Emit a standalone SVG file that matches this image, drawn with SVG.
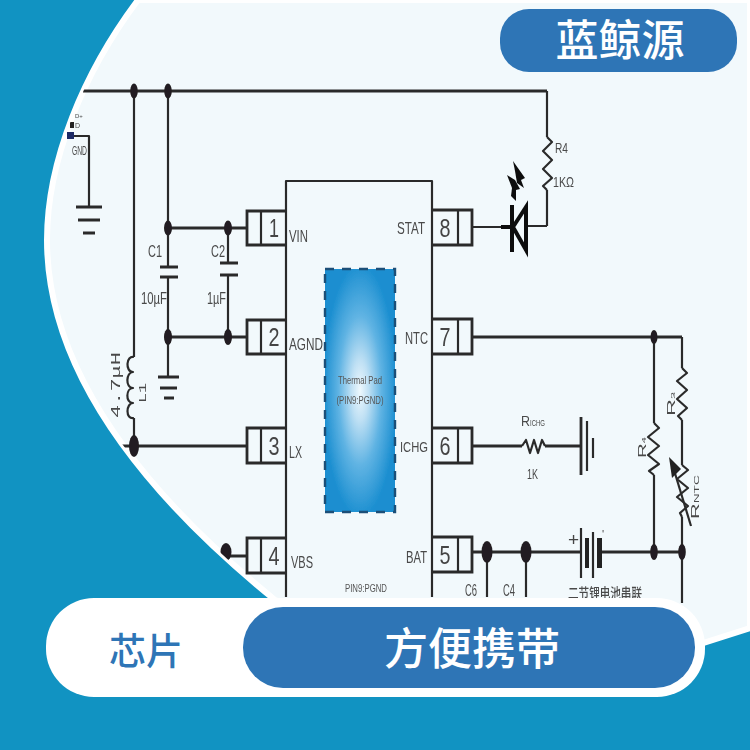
<svg xmlns="http://www.w3.org/2000/svg" width="750" height="750" viewBox="0 0 750 750">
<style>
.w{fill:none;stroke:#2c2c2c;stroke-width:2.2;stroke-linejoin:round}
.t{fill:none;stroke:#2c2c2c;stroke-width:2.8}
.b{fill:none;stroke:#111;stroke-width:4}
.n{fill:#231f20}
text{font-family:"Liberation Sans",Arial,sans-serif;fill:#4a4a4a;font-size:17px}
.d{font-size:26px;text-anchor:middle;fill:#444}
.s{font-size:11.5px;fill:#555}
</style>
<defs>
<radialGradient id="pad" cx="0.5" cy="0.5" r="0.62">
<stop offset="0" stop-color="#eef8fd"/><stop offset="0.2" stop-color="#bfe0f4"/><stop offset="0.5" stop-color="#5fb3e3"/><stop offset="0.85" stop-color="#1a8ed0"/>
</radialGradient>
<clipPath id="area"><path d="M138 0C84 72 47 160 47 240C47 350 115 470 275 600L500 680L703 643L750 628V0Z"/></clipPath>
<filter id="soft" x="-2%" y="-2%" width="104%" height="104%"><feGaussianBlur stdDeviation="0.35"/></filter>
</defs>
<rect id="background" width="750" height="750" fill="#1193c2"/>
<path id="panel" d="M138 0C84 72 47 160 47 240C47 350 115 470 275 600L500 680L703 643L750 628V0Z" fill="#f2f9fc" stroke="#fff" stroke-width="6"/>
<g clip-path="url(#area)"><g filter="url(#soft)">
<g id="connectors">
<path class="t" d="M83 91H547"/>
<path class="w" d="M547 91V137M547 190V226M527 226H547M472 227H501"/>
<path class="w" d="M134 91V357M134 418V446"/>
<path class="t" d="M118 446H247"/>
<path class="w" d="M168 91V266M168 277V377M228 228V263M228 275V337"/>
<path class="t" d="M168 228H247M168 337H247M226 556H247"/>
<path class="w" d="M74 136H89V207"/>
<path class="t" d="M472 337H682M472 446H522M545 446H581M472 552H581M601 552H682"/>
<path class="w" d="M654 337V423M654 475V552M682 337V368M682 420V465M682 517V603M487 552V597M526 552V597"/>
</g>
<g id="chip"><path class="w" d="M286 597V181H432V597"/></g>
<g id="pin1"><path class="t" d="M286 211H247V245H286"/><path class="w" d="M261 211V245"/><text class="d" x="274" y="237" textLength="10" lengthAdjust="spacingAndGlyphs">1</text><text x="289" y="242" textLength="19" lengthAdjust="spacingAndGlyphs">VIN</text></g>
<g id="pin2"><path class="t" d="M286 320H247V354H286"/><path class="w" d="M261 320V354"/><text class="d" x="274" y="346" textLength="11" lengthAdjust="spacingAndGlyphs">2</text><text x="289" y="350" textLength="34" lengthAdjust="spacingAndGlyphs">AGND</text></g>
<g id="pin3"><path class="t" d="M286 428H247V463H286"/><path class="w" d="M261 428V463"/><text class="d" x="274" y="455" textLength="11" lengthAdjust="spacingAndGlyphs">3</text><text x="289" y="458" textLength="13" lengthAdjust="spacingAndGlyphs">LX</text></g>
<g id="pin4"><path class="t" d="M286 538H247V573H286"/><path class="w" d="M261 538V573"/><text class="d" x="274" y="565" textLength="11" lengthAdjust="spacingAndGlyphs">4</text><text x="291" y="568" textLength="22" lengthAdjust="spacingAndGlyphs">VBS</text></g>
<g id="pin8"><path class="t" d="M432 210H472V245H432"/><path class="w" d="M458 210V245"/><text class="d" x="445" y="237" textLength="11" lengthAdjust="spacingAndGlyphs">8</text><text x="397" y="234" textLength="28" lengthAdjust="spacingAndGlyphs">STAT</text></g>
<g id="pin7"><path class="t" d="M432 319H472V354H432"/><path class="w" d="M458 319V354"/><text class="d" x="445" y="346" textLength="11" lengthAdjust="spacingAndGlyphs">7</text><text x="405" y="344" textLength="23" lengthAdjust="spacingAndGlyphs">NTC</text></g>
<g id="pin6"><path class="t" d="M432 428H472V463H432"/><path class="w" d="M458 428V463"/><text class="d" x="445" y="455" textLength="11" lengthAdjust="spacingAndGlyphs">6</text><text x="400" y="452" style="font-size:15px" textLength="28" lengthAdjust="spacingAndGlyphs">ICHG</text></g>
<g id="pin5"><path class="t" d="M432 537H472V572H432"/><path class="w" d="M458 537V572"/><text class="d" x="445" y="564" textLength="11" lengthAdjust="spacingAndGlyphs">5</text><text x="406" y="563" textLength="21" lengthAdjust="spacingAndGlyphs">BAT</text></g>
<g id="thermal-pad"><rect x="325" y="269" width="70" height="243" fill="url(#pad)" stroke="#1c4f78" stroke-width="2.4" stroke-dasharray="9 8"/>
<text x="360" y="384" text-anchor="middle" class="s" textLength="44" lengthAdjust="spacingAndGlyphs">Thermal Pad</text>
<text x="360" y="404" text-anchor="middle" class="s" textLength="47" lengthAdjust="spacingAndGlyphs">(PIN9:PGND)</text></g>
<text id="pin9-note" x="345" y="592" class="s" textLength="42" lengthAdjust="spacingAndGlyphs">PIN9:PGND</text>
<g id="nodes">
<ellipse class="n" cx="134" cy="91" rx="3.8" ry="7.5"/><ellipse class="n" cx="168" cy="91" rx="3.8" ry="7.5"/>
<ellipse class="n" cx="168" cy="228" rx="4" ry="7.5"/><ellipse class="n" cx="228" cy="228" rx="4" ry="7.5"/>
<ellipse class="n" cx="168" cy="337" rx="4" ry="8"/><ellipse class="n" cx="228" cy="337" rx="4" ry="8"/>
<ellipse class="n" cx="134" cy="446" rx="5" ry="11"/><ellipse class="n" cx="226" cy="552" rx="5.5" ry="9"/>
<ellipse class="n" cx="654" cy="337" rx="3.5" ry="7"/><ellipse class="n" cx="487" cy="552" rx="5.5" ry="11"/><ellipse class="n" cx="526" cy="552" rx="5.5" ry="11"/>
<ellipse class="n" cx="654" cy="552" rx="3.8" ry="8"/><ellipse class="n" cx="682" cy="552" rx="3.8" ry="8"/>
</g>
<g id="gnd-terminal"><rect x="67" y="132" width="7" height="7" fill="#1c2a66"/><rect x="70" y="122" width="4" height="6" fill="#222"/>
<text x="75" y="118" style="font-size:6px">D+</text><text x="75" y="128" style="font-size:7px">D</text>
<text x="72" y="155" style="font-size:13px" textLength="15" lengthAdjust="spacingAndGlyphs">GND</text>
<path class="t" d="M76 207H102M78 220H100M83 233H95"/></g>
<g id="C1"><path class="t" d="M160 267H178M160 277H178"/><text x="148" y="257" textLength="14" lengthAdjust="spacingAndGlyphs">C1</text><text x="141" y="304" textLength="26" lengthAdjust="spacingAndGlyphs">10µF</text></g>
<g id="C2"><path class="t" d="M220 263H238M220 275H238"/><text x="211" y="257" textLength="14" lengthAdjust="spacingAndGlyphs">C2</text><text x="207" y="304" textLength="19" lengthAdjust="spacingAndGlyphs">1µF</text></g>
<g id="agnd-ground"><path class="t" d="M158 377H179M160 388H177M164 398H174"/></g>
<g id="L1"><path class="w" d="M134 357C126 355 125 372 133 372C126 372 125 388 133 388C126 388 125 403 133 403C126 403 125 420 134 418"/>
<text transform="translate(120 418) rotate(-90)" style="font-family:'Liberation Mono',monospace;font-size:12px" textLength="66" lengthAdjust="spacingAndGlyphs">4.7μH</text>
<text transform="translate(146 403) rotate(-90)" style="font-family:'Liberation Mono',monospace;font-size:11px" textLength="20" lengthAdjust="spacingAndGlyphs">L1</text></g>
<g id="R4"><path class="w" d="M547 137L552 142L543 151L552 160L543 169L552 178L543 186L547 190"/><text x="555" y="153" style="font-size:14px" textLength="13" lengthAdjust="spacingAndGlyphs">R4</text><text x="553" y="187" style="font-size:14px" textLength="21" lengthAdjust="spacingAndGlyphs">1KΩ</text></g>
<g id="LED"><path class="b" d="M512 205V252M526 207L513 227L526 250ZM501 227H513"/>
<path d="M513 161L525 178L521 180L524 188L517 183L515 171Z" fill="#111"/>
<path d="M507 175L515 180L520 189L516 190L516 201L511 196L512 188Z" fill="#111"/></g>
<g id="Richg"><path class="w" d="M522 446L526 440L530 453L534 440L538 453L542 440L545 446"/>
<text x="521" y="426" style="font-size:15px" textLength="9" lengthAdjust="spacingAndGlyphs">R</text><text x="530" y="426" style="font-size:9px" textLength="15" lengthAdjust="spacingAndGlyphs">ICHG</text>
<text x="527" y="479" style="font-size:14px" textLength="11" lengthAdjust="spacingAndGlyphs">1K</text>
<path class="t" d="M581 417V475"/><path class="w" d="M587 421V471M593 438V458"/></g>
<g id="Rp1"><path class="w" d="M654 423L659 428L648 437L659 446L648 455L659 464L649 471L654 475"/>
<text transform="translate(646 458) rotate(-90)" style="font-size:11px" textLength="21" lengthAdjust="spacingAndGlyphs">R<tspan style="font-size:6px">4</tspan></text></g>
<g id="Rp2"><path class="w" d="M682 368L687 373L677 381L687 390L677 399L687 408L678 416L682 420"/>
<text transform="translate(675 416) rotate(-90)" style="font-size:11px" textLength="24" lengthAdjust="spacingAndGlyphs">R<tspan style="font-size:6px">3</tspan></text></g>
<g id="Rntc"><path class="w" d="M682 465L688 470L677 479L688 488L677 497L688 506L680 513L682 517"/><path class="w" d="M691 526L674 470"/><path d="M669 457L681 469L672 478Z" fill="#222"/>
<text transform="translate(699 519) rotate(-90)" style="font-size:11px" textLength="44" lengthAdjust="spacingAndGlyphs">R<tspan style="font-size:7px">NTC</tspan></text></g>
<g id="battery"><path class="w" d="M581 528V578M593 532V578"/><path d="M585 538h4v30h-4zM597 538h5v30h-5z" fill="#222"/>
<text x="568" y="546" style="font-size:19px;fill:#444">+</text><text x="602" y="538" style="font-size:11px;fill:#444">'</text>
<text x="568" y="598" style="font-size:14px;font-family:'Noto Sans CJK SC',sans-serif;font-weight:500" textLength="74" lengthAdjust="spacingAndGlyphs">二节锂电池串联</text></g>
<g id="C6"><text x="465" y="596" style="font-size:16px" textLength="12" lengthAdjust="spacingAndGlyphs">C6</text></g>
<g id="C4"><text x="503" y="596" style="font-size:16px" textLength="12" lengthAdjust="spacingAndGlyphs">C4</text></g>
</g></g>
<g id="brand"><rect x="500" y="9" width="237" height="63" rx="29" fill="#2e75b6"/>
<text x="620" y="56" text-anchor="middle" style="font-family:'Noto Sans CJK SC',sans-serif;font-size:43px;fill:#fff;font-weight:500">蓝鲸源</text></g>
<g id="footer"><rect x="46" y="598" width="659" height="99" rx="48" fill="#fff"/>
<rect x="243" y="607" width="452" height="81" rx="40" fill="#2e75b6"/>
<text x="146" y="665" text-anchor="middle" style="font-family:'Noto Sans CJK SC',sans-serif;font-size:37px;fill:#2e75b6;font-weight:500">芯片</text>
<text x="472" y="665" text-anchor="middle" style="font-family:'Noto Sans CJK SC',sans-serif;font-size:44px;fill:#fff;font-weight:500">方便携带</text></g>
</svg>
